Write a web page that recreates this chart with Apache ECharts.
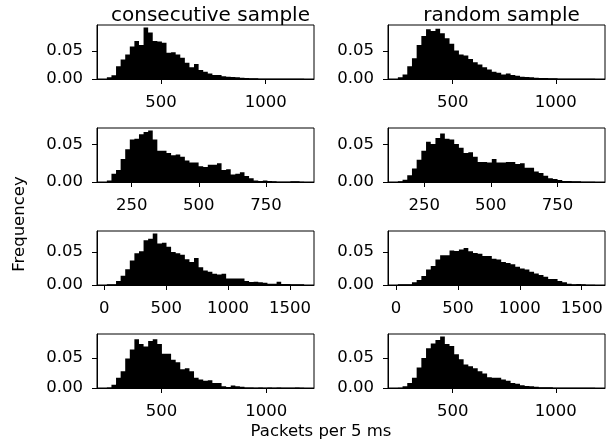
<!DOCTYPE html>
<html><head><meta charset="utf-8">
<script src="https://cdn.jsdelivr.net/npm/echarts@6/dist/echarts.min.js"></script>
<style>html,body{margin:0;padding:0;background:#fff}#c{width:616px;height:444px}</style>
</head><body><div id="c"></div>
<script>
// ---------- text ----------
const colTitles = ['consecutive sample', 'random sample'];
const xLabelText = 'Packets per 5 ms';
const yLabelText = 'Frequencey';

// ---------- tick labels ----------
const yTicks = [0, 0.05];
const xTicksRow1 = [500, 1000];
const xTicksRow2 = [250, 500, 750];
const xTicksRow3 = [0, 500, 1000, 1500];
const xTicksRow4 = [500, 1000];

// ---------- histogram bin ranges [first edge, last edge] ----------
const rangeR1Consec = [241.5, 1183.6];
const rangeR1Random = [234, 1191];
const rangeR2Consec = [157.7, 891.9];
const rangeR2Random = [150.6, 891.7];
const rangeR3Consec = [20.7, 1614.6];
const rangeR3Random = [15, 1608.5];
const rangeR4Consec = [240, 1180];
const rangeR4Random = [234, 1191];

// ---------- histogram frequencies (density), left to right ----------
const freqR1Consec = [0.003,0.0065,0.023,0.035,0.044,0.058,0.068,0.061,0.092,0.083,0.068,0.067,0.065,0.047,0.048,0.044,0.038,0.029,0.021,0.027,0.016,0.013,0.010,0.007,0.007,0.005,0.004,0.0035,0.003,0.0024,0.0018,0.0012,0.0012,0.0006,0.0006,0.0006,0.0006,0.0006,0.0006,0.0006,0.0006,0.0006,0.0006];
const freqR1Random = [0.003,0.008,0.023,0.037,0.061,0.077,0.089,0.086,0.090,0.082,0.073,0.063,0.051,0.044,0.042,0.036,0.030,0.026,0.021,0.017,0.013,0.011,0.008,0.010,0.007,0.006,0.004,0.0035,0.003,0.0024,0.0018,0.0018,0.0012,0.0012,0.0006,0.0005,0.0004,0.0004,0.0003,0.0003,0.0003,0.0003];
const freqR2Consec = [0.002,0.011,0.016,0.031,0.044,0.057,0.058,0.064,0.067,0.069,0.057,0.042,0.042,0.039,0.036,0.037,0.034,0.029,0.026,0.026,0.021,0.020,0.023,0.023,0.025,0.016,0.017,0.010,0.011,0.013,0.008,0.005,0.002,0.0013,0.002,0.0013,0.001,0.0004,0.0004,0.0004,0.0009,0.0009,0.0004];
const freqR2Random = [0.001,0.003,0.009,0.018,0.030,0.042,0.054,0.051,0.059,0.065,0.058,0.057,0.051,0.046,0.039,0.040,0.034,0.027,0.027,0.026,0.031,0.026,0.026,0.027,0.027,0.024,0.025,0.019,0.019,0.014,0.012,0.0085,0.005,0.004,0.0027,0.0013,0.0013,0.001,0.001,0.0005,0.0005,0.0005];
const freqR3Consec = [0.001,0.001,0.006,0.014,0.024,0.037,0.048,0.051,0.068,0.070,0.078,0.063,0.064,0.058,0.050,0.048,0.046,0.039,0.035,0.041,0.027,0.022,0.020,0.017,0.016,0.017,0.010,0.010,0.010,0.010,0.006,0.0046,0.005,0.004,0.0036,0.002,0.002,0.005,0.0015,0.0015,0.001,0.001,0.001];
const freqR3Random = [0.001,0.001,0.001,0.004,0.0075,0.0135,0.0235,0.029,0.0385,0.045,0.045,0.0525,0.0515,0.054,0.056,0.051,0.0485,0.0475,0.044,0.044,0.040,0.0385,0.035,0.0335,0.0315,0.0275,0.025,0.0235,0.020,0.0175,0.015,0.0125,0.009,0.009,0.006,0.004,0.002,0.001,0.0015,0.001,0.0005,0.0005];
const freqR4Consec = [0.001,0.0056,0.017,0.028,0.049,0.064,0.081,0.073,0.069,0.078,0.081,0.073,0.057,0.057,0.047,0.043,0.031,0.033,0.028,0.017,0.014,0.012,0.013,0.0083,0.0083,0.0028,0.0017,0.004,0.0028,0.0022,0.001,0.001,0.0006,0.001,0.0006,0.001,0.0006,0.001,0.0006,0.0006,0.0006,0.001,0.0006];
const freqR4Random = [0.0006,0.0028,0.0083,0.017,0.034,0.050,0.066,0.074,0.080,0.0855,0.073,0.070,0.056,0.048,0.039,0.036,0.033,0.028,0.024,0.018,0.017,0.017,0.014,0.012,0.0083,0.0072,0.0044,0.0033,0.0028,0.0022,0.0011,0.0011,0.0011,0.0006,0.0006,0.0006,0.0006,0.0003,0.0003,0.0003,0.0003,0.0003];

// ---------- assemble ----------
const panels = [
  {row:0, col:0, range:rangeR1Consec, freq:freqR1Consec, ticks:xTicksRow1},
  {row:0, col:1, range:rangeR1Random, freq:freqR1Random, ticks:xTicksRow1},
  {row:1, col:0, range:rangeR2Consec, freq:freqR2Consec, ticks:xTicksRow2},
  {row:1, col:1, range:rangeR2Random, freq:freqR2Random, ticks:xTicksRow2},
  {row:2, col:0, range:rangeR3Consec, freq:freqR3Consec, ticks:xTicksRow3},
  {row:2, col:1, range:rangeR3Random, freq:freqR3Random, ticks:xTicksRow3},
  {row:3, col:0, range:rangeR4Consec, freq:freqR4Consec, ticks:xTicksRow4},
  {row:3, col:1, range:rangeR4Random, freq:freqR4Random, ticks:xTicksRow4}
];

const FONT = 'DejaVu Sans';
const TICK_FS = 16.5;
const gridLeft = [97, 388];
const gridTop = [25, 128, 231, 334];
const GW = 217, GH = 54;

// shared y-limit per row (matplotlib-like 5% headroom)
const rowMax = [0,0,0,0];
panels.forEach(p => { rowMax[p.row] = Math.max(rowMax[p.row], ...p.freq); });

const grid = [], xAxis = [], yAxis = [], series = [];
panels.forEach((p, i) => {
  grid.push({left: gridLeft[p.col], top: gridTop[p.row], width: GW, height: GH,
    show: true, borderColor: '#000', borderWidth: 1, backgroundColor: 'transparent', containLabel: false});
  const a = p.range[0], b = p.range[1], n = p.freq.length, w = (b - a) / n;
  const data = p.freq.map((f, k) => [a + k * w, a + (k + 1) * w, f]);
  const pad = 0.05 * (b - a);
  xAxis.push({type: 'value', gridIndex: i, min: a - pad, max: b + pad,
    axisLine: {show: true, onZero: false, lineStyle: {color: '#000', width: 1}},
    axisTick: {show: true, length: 5, lineStyle: {color: '#000', width: 1}, customValues: p.ticks},
    axisLabel: {show: true, customValues: p.ticks, fontSize: TICK_FS, fontFamily: FONT, color: '#000', margin: 15,
      formatter: v => String(v)},
    splitLine: {show: false}});
  yAxis.push({type: 'value', gridIndex: i, min: 0, max: rowMax[p.row] * 1.05,
    axisLine: {show: true, onZero: false, lineStyle: {color: '#000', width: 1}},
    axisTick: {show: true, length: 5, lineStyle: {color: '#000', width: 1}, customValues: yTicks},
    axisLabel: {show: true, customValues: yTicks, fontSize: TICK_FS, fontFamily: FONT, color: '#000', margin: 14,
      formatter: v => v.toFixed(2)},
    splitLine: {show: false}});
  series.push({type: 'custom', xAxisIndex: i, yAxisIndex: i, data: data,
    encode: {x: [0, 1], y: 2}, clip: true, silent: true,
    // draw the whole histogram as one step polygon (no seams between bins)
    renderItem: function (params, api) {
      if (params.dataIndex !== 0) return null;
      const pts = [api.coord([data[0][0], 0])];
      data.forEach(d => {
        pts.push(api.coord([d[0], d[2]]));
        pts.push(api.coord([d[1], d[2]]));
      });
      pts.push(api.coord([data[data.length - 1][1], 0]));
      return {type: 'polygon', shape: {points: pts}, style: {fill: '#000', stroke: null}};
    }});
});

const titles = colTitles.map((t, c) => ({text: t, left: gridLeft[c] + GW / 2, top: 1, textAlign: 'center',
  textStyle: {fontSize: 20, fontWeight: 'normal', fontFamily: FONT, color: '#000'}}));

const chart = echarts.init(document.getElementById('c'), null, {renderer: 'canvas'});
chart.setOption({
  animation: false,
  backgroundColor: '#fff',
  title: titles,
  grid, xAxis, yAxis, series,
  graphic: [
    {type: 'text', x: 20, y: 224, rotation: Math.PI / 2,
      style: {text: yLabelText, font: '16.5px "DejaVu Sans"', fill: '#000', textAlign: 'center', textVerticalAlign: 'middle'}},
    {type: 'text', x: 321, y: 432,
      style: {text: xLabelText, font: '16.5px "DejaVu Sans"', fill: '#000', textAlign: 'center', textVerticalAlign: 'middle'}}
  ]
});
</script></body></html>
